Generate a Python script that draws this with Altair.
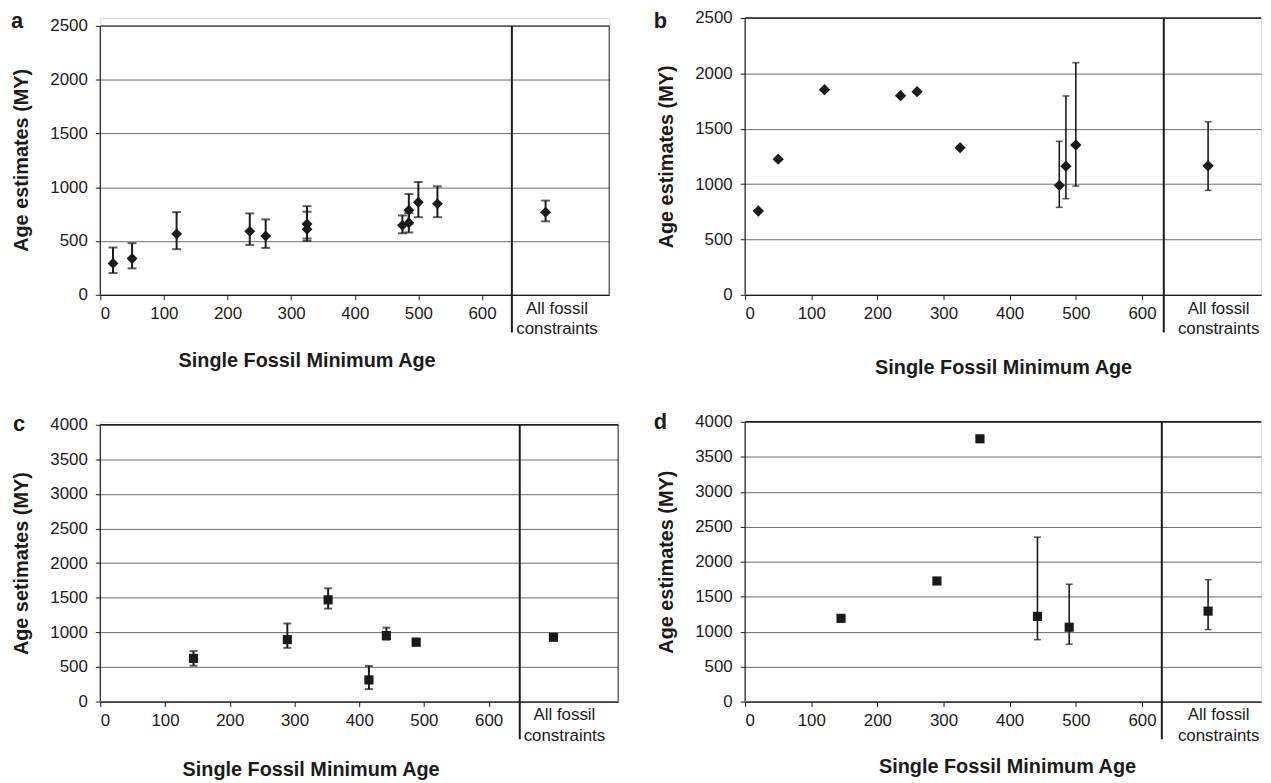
import altair as alt
import pandas as pd

# ---------------- data ----------------
# panel a : diamonds, y 0-2500
a_x  = [20, 50, 120, 235, 260, 325, 325, 475, 485, 485, 500, 530]
a_y  = [292, 338, 566, 590, 547, 658, 609, 646, 670, 787, 861, 846]
a_lo = [203, 246, 424, 464, 436, 523, 501, 572, 580, 660, 722, 722]
a_hi = [440, 480, 769, 757, 701, 824, 772, 738, 760, 937, 1049, 1008]
a_all = [768, 683, 876]          # estimate, low, high (all fossil constraints)

# panel b : diamonds, y 0-2500
b_x  = [20, 50, 120, 235, 260, 325, 475, 485, 500]
b_y  = [757, 1225, 1853, 1799, 1835, 1329, 988, 1162, 1353]
b_ex = [475, 485, 500]
b_lo = [790, 868, 982]
b_hi = [1386, 1796, 2096]
b_all = [1165, 943, 1563]

# panel c : squares, y 0-4000
c_x  = [144, 289, 352, 415, 442, 488]
c_y  = [624, 895, 1470, 313, 954, 857]
c_lo = [519, 776, 1343, 180, 895, 824]
c_hi = [729, 1129, 1636, 515, 1068, 910]
c_all = [929, 895, 965]

# panel d : squares, y 0-4000
d_x  = [145, 290, 355, 442, 490]
d_y  = [1190, 1724, 3757, 1218, 1063]
d_ex = [442, 490]
d_lo = [885, 820]
d_hi = [2351, 1677]
d_all = [1293, 1030, 1742]

ALL_X = 700
x_ticks = [0, 100, 200, 300, 400, 500, 600]
x_title = "Single Fossil Minimum Age"
group_text = ["All fossil", "constraints"]

FONT = "Liberation Sans"
INK = "#1a1a1a"
GRID = "#6a6a6a"


def panel(px, py, ex, elo, ehi, allv, ytop, ystep, ymaxd, shape, msize,
          width, height, xmax, divx, letter, lx, ly, ytitle, ytitleY,
          xtitleX, xtitleY, right_border, textx, stroke_w, cap, topcol):
    pts = pd.DataFrame({"x": px + [ALL_X], "y": py + [allv[0]]})
    errs = pd.DataFrame({"x": ex + [ALL_X], "lo": elo + [allv[1]], "hi": ehi + [allv[2]]})
    xs = alt.Scale(domain=[0, xmax], nice=False, zero=True)
    ys = alt.Scale(domain=[0, ymaxd], nice=False, zero=True)

    xaxis = alt.Axis(values=x_ticks, grid=False, title=x_title, format="d",
                     domainColor=INK, domainWidth=1.2, tickColor=INK, tickSize=5,
                     labelPadding=6, labelFontSize=17, labelColor=INK, labelFont=FONT,
                     titleFont=FONT, titleFontSize=20, titleFontWeight="bold", titleColor=INK,
                     titleX=xtitleX, titleY=xtitleY, titleAnchor="start", titleAlign="center",
                     titleBaseline="top")
    yaxis = alt.Axis(values=list(range(0, ytop + 1, ystep)), grid=True, gridColor=GRID,
                     gridWidth=1, domain=False, tickColor=INK, tickSize=5, labelPadding=8,
                     format="d",
                     labelFontSize=17, labelColor=INK, labelFont=FONT, title=ytitle,
                     titleFont=FONT, titleFontSize=20, titleFontWeight="bold", titleColor=INK,
                     titleX=-69, titleY=ytitleY, titleAlign="center", titleBaseline="bottom",
                     titleAngle=-90)

    def X(field):
        return alt.X(field, scale=xs, axis=xaxis)

    def Y(field):
        return alt.Y(field, scale=ys, axis=yaxis)

    def XD(v):
        return alt.XDatum(v, type="quantitative", scale=xs, axis=xaxis)

    def YD(v):
        return alt.YDatum(v, type="quantitative", scale=ys, axis=yaxis)

    layers = []
    # points (carry axes)
    layers.append(alt.Chart(pts).mark_point(shape=shape, filled=True, size=msize,
                                            color=INK, opacity=1).encode(
        x=X("x:Q"), y=Y("y:Q")))
    # error bars
    layers.append(alt.Chart(errs).mark_rule(color=INK, strokeWidth=stroke_w).encode(
        x=X("x:Q"), y=Y("lo:Q"), y2="hi:Q"))
    for col in ["lo", "hi"]:
        layers.append(alt.Chart(errs).mark_tick(color=INK, orient="horizontal", size=cap,
                                                thickness=stroke_w).encode(
            x=X("x:Q"), y=Y(col + ":Q")))
    # frame: left axis line, top line, optional right border
    frame = alt.Chart(pd.DataFrame({"a": [0]}))
    layers.append(frame.mark_rule(color=INK, strokeWidth=1.2).encode(
        x=alt.value(0), y=YD(0), y2=alt.datum(ytop)))
    layers.append(frame.mark_rule(color=topcol, strokeWidth=1.5).encode(
        x=alt.value(0), x2=alt.value(width), y=YD(ytop)))
    if right_border:
        layers.append(frame.mark_rule(color="#444444", strokeWidth=1.2).encode(
            x=alt.value(width), y=YD(0), y2=alt.datum(ytop)))
    # divider between single fossils and all fossils
    layers.append(frame.mark_rule(color=INK, strokeWidth=2).encode(
        x=XD(divx), y=YD(ytop), y2=alt.value(height + 38)))
    # category text
    layers.append(frame.mark_text(font=FONT, fontSize=17, color=INK, baseline="top",
                                  align="center", lineHeight=21).encode(
        x=XD(textx), y=alt.value(height + 6), text=alt.value(group_text)))
    # panel letter
    layers.append(frame.mark_text(font=FONT, fontSize=22, fontWeight="bold", color=INK,
                                  baseline="top", align="left").encode(
        x=alt.value(lx), y=alt.value(ly), text=alt.value(letter)))
    return alt.layer(*layers).properties(width=width, height=height)


pa = panel(a_x, a_y, a_x, a_lo, a_hi, a_all, 2500, 500, 2500 * 279 / 271, "diamond", 120,
           513, 279, 800, 647, "a", -90, -7, "Age estimates (MY)", 143,
           208, 56, True, 718, 2, 9, "#555555")
pb = panel(b_x, b_y, b_ex, b_lo, b_hi, b_all, 2500, 500, 2500, "diamond", 130,
           520, 279, 780, 633, "b", -92, -7, "Age estimates (MY)", 139.5,
           260, 63, False, 716, 1.6, 7, "#222222")
pc = panel(c_x, c_y, c_x, c_lo, c_hi, c_all, 4000, 500, 4000 * 282 / 279, "square", 85,
           522, 282, 800, 648, "c", -88, -8, "Age setimates (MY)", 142.5,
           212, 59, True, 717, 2, 8, "#222222")
pd_ = panel(d_x, d_y, d_ex, d_lo, d_hi, d_all, 4000, 500, 4000, "square", 85,
            520, 282, 780, 630, "d", -92, -10, "Age estimates (MY)", 141,
            264, 55, False, 716, 1.6, 7, "#222222")

chart = alt.concat(pa, pb, pc, pd_, columns=2, spacing={"row": 128, "column": 128},
                   bounds="flush").properties(
    padding={"left": 2, "top": -3, "right": 0, "bottom": 0}
).configure_view(stroke=None).configure(font=FONT, background="white")

chart.save("out.html", embed_options={"renderer": "svg", "actions": False})
